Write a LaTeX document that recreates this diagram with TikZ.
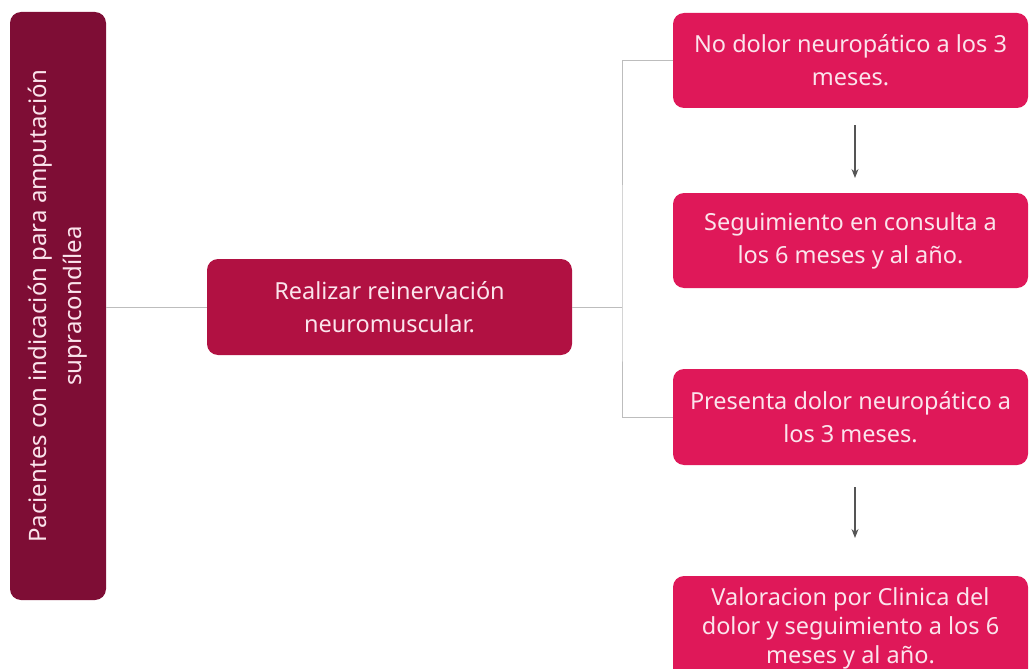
\documentclass[tikz,border=0pt]{standalone}
\usepackage{fontspec}
\setmainfont{Noto Sans}
\usetikzlibrary{arrows.meta}
\definecolor{cdark}{HTML}{7E0D35}
\definecolor{cmid}{HTML}{B11142}
\definecolor{cpink}{HTML}{DF1859}
\definecolor{ctext}{HTML}{FBE4EC}
\definecolor{cline}{HTML}{BDBDBD}
\definecolor{carrow}{HTML}{555555}
\tikzset{
  box/.style={rounded corners=11pt, inner sep=0pt, align=center, text=ctext,
    font=\fontsize{23.5}{33}\selectfont},
  lbl/.style={inner sep=0pt, align=center, text=ctext,
    font=\fontsize{24}{35}\selectfont},
  conn/.style={draw=cline, line width=1pt},
  arr/.style={draw=carrow, line width=1.1pt, -{Stealth[length=9pt,width=7pt]}},
}
\begin{document}
\begin{tikzpicture}[x=1pt,y=-1pt]
\useasboundingbox (0,0) rectangle (1029,669);
\clip (0,0) rectangle (1029,669);
\node[box, fill=cdark, minimum width=96pt, minimum height=588pt] (left) at (58,306) {};
\node[lbl, rotate=90] (lefttext) at (left.center)
  {Pacientes con indicación para amputación\\supracondílea};
\node[box, fill=cmid, minimum width=365pt, minimum height=96pt] (mid) at (389.5,307)
  {Realizar reinervación\\neuromuscular.};
\node[box, fill=cpink, minimum width=355pt, minimum height=95pt] (b1) at (850.5,60.5)
  {No dolor neuropático a los 3\\meses.};
\node[box, fill=cpink, minimum width=355pt, minimum height=95pt] (b2) at (850.5,240.5)
  {Seguimiento en consulta a\\los 6 meses y al año.};
\node[box, fill=cpink, minimum width=355pt, minimum height=96pt] (b3) at (850.5,417)
  {Presenta dolor neuropático a\\los 3 meses.};
\node[box, fill=cpink, minimum width=355pt, minimum height=104pt,
  font=\fontsize{23.5}{29}\selectfont] (b4) at (850.5,628)
  {Valoracion por Clinica del\\dolor y seguimiento a los 6\\meses y al año.};
\coordinate (j) at (622,307);
\draw[conn] (left.east |- mid.west) -- (mid.west);
\draw[conn] (mid.east) -- (j);
\draw[conn] (b1.west) -| (j) |- (b3.west);
\coordinate (a1s) at (855,125);
\coordinate (a1e) at (855,178);
\coordinate (a2s) at (855,487);
\coordinate (a2e) at (855,538);
\draw[arr] (a1s) -- (a1e);
\draw[arr] (a2s) -- (a2e);
\end{tikzpicture}
\end{document}
